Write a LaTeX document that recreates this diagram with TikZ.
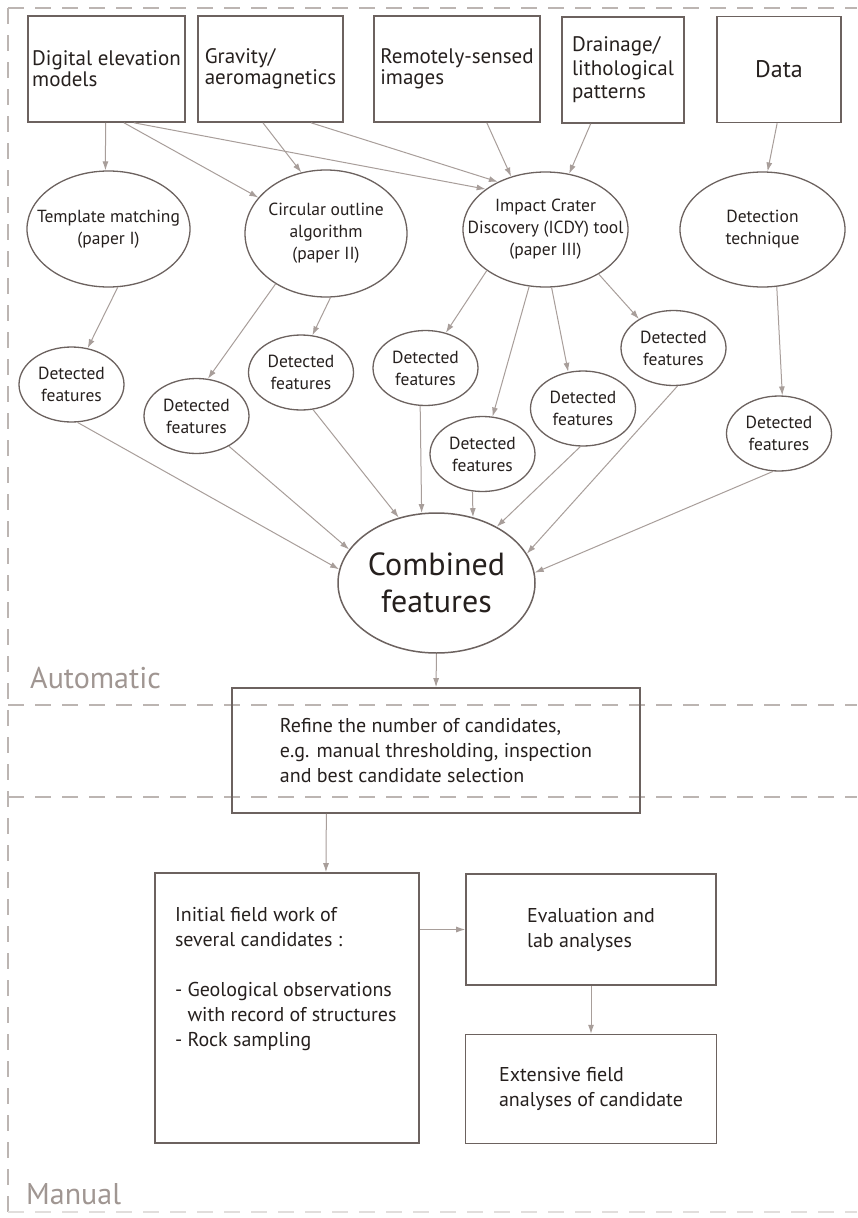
\documentclass[tikz,border=0pt]{standalone}
\usepackage{fontspec}
\setmainfont{PT Sans}
\usetikzlibrary{shapes.geometric,arrows.meta,positioning}

\definecolor{edgegrey}{RGB}{108,98,95}
\definecolor{arrowgrey}{RGB}{168,158,154}
\definecolor{zonegrey}{RGB}{188,181,178}
\definecolor{labelgrey}{RGB}{160,150,146}
\definecolor{inkgrey}{RGB}{38,32,30}

% keeps wide lines from growing the ellipse
\newcommand{\tightlines}[1]{\makebox[0pt]{\begin{tabular}{@{}c@{}}#1\end{tabular}}}

\begin{document}
\begin{tikzpicture}[x=1pt,y=-1pt,
srcbox/.style={rectangle, draw=edgegrey, line width=1.6pt, minimum height=106pt, inner xsep=4pt, align=left, text=inkgrey, font=\fontsize{21}{21}\selectfont},
methnode/.style={ellipse, draw=edgegrey, line width=1.3pt, minimum width=164pt, minimum height=116pt, inner sep=0pt, text=inkgrey, font=\fontsize{17.5}{22}\selectfont},
detnode/.style={ellipse, draw=edgegrey, line width=1.3pt, minimum width=105pt, minimum height=75pt, inner sep=0pt, align=center, text=inkgrey, font=\fontsize{17.5}{22}\selectfont},
combnode/.style={ellipse, draw=edgegrey, line width=1.5pt, minimum width=197pt, minimum height=140pt, inner sep=0pt, align=center, text=inkgrey, font=\fontsize{32}{37}\selectfont},
stepbox/.style={rectangle, draw=edgegrey, line width=1.6pt, align=left, text=inkgrey, font=\fontsize{20}{25}\selectfont},
feed/.style={draw=arrowgrey, line width=1pt, -{Latex[length=9pt,width=6pt]}},
zone/.style={draw=zonegrey, line width=1.5pt, dash pattern=on 16pt off 11pt},
zonelabel/.style={inner sep=0pt, anchor=west, text=labelgrey, font=\fontsize{30}{30}\selectfont},
]
\fill[white] (0,0) rectangle (857,1218);
\useasboundingbox (0,0) rectangle (857,1218);

%Zones
\draw[zone] (8,8) -- (857,8);
\draw[zone] (8,8) -- (8,1212);
\draw[zone] (8,705) -- (857,705);
\draw[zone] (8,797) -- (857,797);
\draw[zone, draw=zonegrey!45] (8,1212) -- (857,1212);

\node[zonelabel] (auto) at (30,678) {Automatic};
\node[zonelabel] (man) at (26,1194) {Manual};

%Nodes
\node[srcbox, minimum width=155pt] (dem) at (106.5,69) {Digital elevation\\models};
\node[srcbox, minimum width=145pt] (grav) at (270.5,69) {Gravity/\\aeromagnetics};
\node[srcbox, minimum width=166pt] (rsi) at (457,69) {Remotely-sensed\\images};
\node[srcbox, minimum width=122pt, font=\fontsize{21}{23.5}\selectfont] (drn) at (623,70) {Drainage/\\lithological\\patterns};
\node[srcbox, minimum width=124pt, font=\fontsize{24}{24}\selectfont] (dat) at (779,69.5) {Data};

\node[methnode, minimum width=163pt] (tm) at (108.5,229) {\tightlines{Template matching\\(paper I)}};
\node[methnode, minimum width=162pt, minimum height=127pt] (co) at (326,233.5) {\tightlines{Circular outline\\algorithm\\(paper II)}};
\node[methnode, minimum width=165pt, minimum height=115pt] (icdy) at (545.5,229.5) {\tightlines{Impact Crater\\Discovery (ICDY) tool\\(paper III)}};
\node[methnode, minimum width=165pt, minimum height=115pt] (dtq) at (762.5,229.5) {\tightlines{Detection\\technique}};

\node[detnode] (f1) at (71.5,384.5) {Detected\\features};
\node[detnode] (f2) at (196.5,416) {Detected\\features};
\node[detnode] (f3) at (301,372.5) {Detected\\features};
\node[detnode] (f4) at (425.5,368) {Detected\\features};
\node[detnode] (f5) at (482.5,454) {Detected\\features};
\node[detnode] (f6) at (583,408.5) {Detected\\features};
\node[detnode] (f7) at (673.5,348) {Detected\\features};
\node[detnode] (f8) at (779,433.5) {Detected\\features};

\node[combnode] (cf) at (436.5,583) {Combined\\features};

\node[stepbox, minimum width=408pt, minimum height=125pt] (ref) at (436,750.5) {Refine the number of candidates,\\e.g. manual thresholding, inspection\\and best candidate selection};

\node[stepbox, minimum width=264pt, minimum height=270pt, inner sep=0pt] (ini) at (287,1008) {\parbox[c][202pt][t]{224pt}{Initial field work of\\several candidates :\\[25pt]- Geological observations\\\hphantom{- }with record of structures\\- Rock sampling}};
\node[stepbox, minimum width=250pt, minimum height=111pt] (eva) at (591,929.5) {Evaluation and\\lab analyses};
\node[stepbox, minimum width=251pt, minimum height=109pt] (ext) [below=48pt of eva] {Extensive field\\analyses of candidate};

%Lines
\draw[feed] (dem.-91) -- (tm.93);
\draw[feed] (dem.-72.7) -- (co.152);
\draw[feed] (dem.-63.4) -- (icdy.146);
\draw[feed] (grav.-98) -- (co.112);
\draw[feed] (grav.-53.3) -- (icdy.135.6);
\draw[feed] (rsi.-61.3) -- (icdy.123);
\draw[feed] (drn.-121.7) -- (icdy.67.6);
\draw[feed] (dat.-92) -- (dtq.85);

\draw[feed] (tm.-81.7) -- (f1.66);
\draw[feed] (co.-135) -- (f2.73);
\draw[feed] (co.-86) -- (f3.73);
\draw[feed] (icdy.-145) -- (f4.60);
\draw[feed] (icdy.-106) -- (f5.75);
\draw[feed] (icdy.-84) -- (f6.112);
\draw[feed] (icdy.-40) -- (f7.140);
\draw[feed] (dtq.-76.5) -- (f8.85);

\draw[feed] (f1.-81.7) -- (cf.172.8);
\draw[feed] (f2.-43) -- (cf.159);
\draw[feed] (f3.-72.3) -- (cf.120);
\draw[feed] (f4.-98) -- (cf.102.5);
\draw[feed] (f5.-105) -- (cf.61.5);
\draw[feed] (f6.-94.6) -- (cf.43.5);
\draw[feed] (f7.-84.7) -- (cf.18.3);
\draw[feed] (f8.-99) -- (cf.6);

\draw[feed] (cf.south) -- (ref.north);
\draw[feed] (ref.-150.4) -- (ini.74);
\draw[feed] (ini.east |- eva.west) -- (eva.west);
\draw[feed] (eva.south) -- (ext.north);

\end{tikzpicture}
\end{document}
